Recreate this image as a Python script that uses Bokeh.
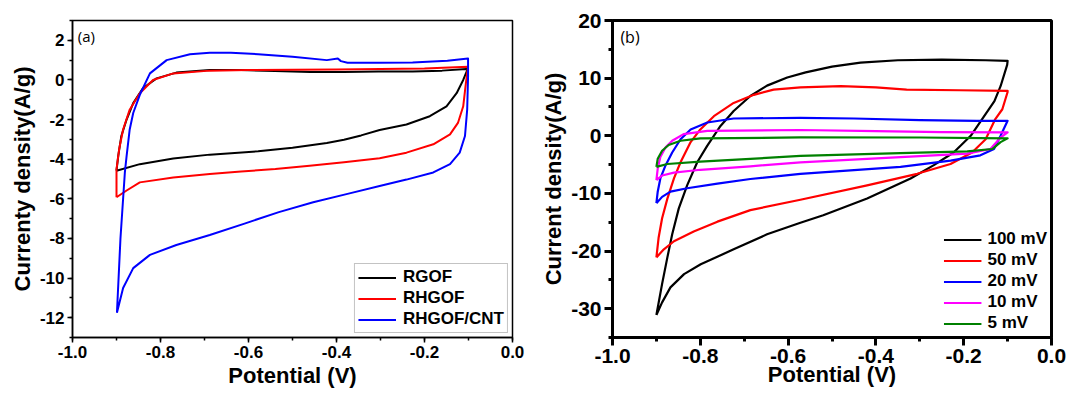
from bokeh.plotting import figure
from bokeh.layouts import row
from bokeh.models import (SingleIntervalTicker, PrintfTickFormatter, Label,
                          Legend, LegendItem, Range1d)
from bokeh.embed import file_html
from bokeh.resources import INLINE

# ---------------- data: panel (a) ----------------
rgof_x = [-0.900, -0.896, -0.889, -0.877, -0.862, -0.840, -0.809, -0.764, -0.688, -0.617,
          -0.540, -0.460, -0.383, -0.305, -0.227, -0.160, -0.105, -0.101,
          -0.112, -0.127, -0.150, -0.188, -0.241, -0.302, -0.344, -0.383, -0.422, -0.500,
          -0.578, -0.688, -0.771, -0.847, -0.900]
rgof_y = [-4.58, -3.83, -2.83, -2.00, -1.17, -0.42, 0.08, 0.37, 0.50, 0.50,
          0.45, 0.40, 0.40, 0.42, 0.42, 0.47, 0.55, 0.60,
          0.00, -0.67, -1.33, -1.83, -2.25, -2.53, -2.80, -3.02, -3.18, -3.42,
          -3.60, -3.77, -3.97, -4.25, -4.58]

rhgof_x = [-0.900, -0.900, -0.894, -0.885, -0.870, -0.847, -0.817, -0.771, -0.688, -0.600,
           -0.500, -0.400, -0.300, -0.200, -0.101,
           -0.106, -0.112, -0.124, -0.142, -0.180, -0.241, -0.302, -0.383, -0.461, -0.539,
           -0.617, -0.688, -0.771, -0.847, -0.877, -0.900]
rhgof_y = [-5.92, -4.50, -3.50, -2.50, -1.50, -0.67, 0.00, 0.33, 0.47, 0.50,
           0.52, 0.53, 0.55, 0.58, 0.67,
           -0.17, -1.33, -2.17, -2.75, -3.25, -3.67, -3.95, -4.15, -4.33, -4.50,
           -4.62, -4.75, -4.92, -5.17, -5.58, -5.92]

cnt_x = [-0.899, -0.891, -0.881, -0.877, -0.870, -0.862, -0.847, -0.824, -0.786, -0.733,
         -0.688, -0.640, -0.578, -0.500, -0.422, -0.397, -0.390, -0.375, -0.305, -0.227,
         -0.148, -0.101,
         -0.101, -0.103, -0.108, -0.120, -0.142, -0.180, -0.241, -0.302, -0.375, -0.453,
         -0.531, -0.609, -0.688, -0.764, -0.824, -0.862, -0.885, -0.899]
cnt_y = [-11.75, -8.00, -4.67, -3.83, -2.50, -1.67, -0.75, 0.33, 1.00, 1.30,
         1.37, 1.37, 1.30, 1.17, 1.00, 1.08, 0.95, 0.87, 0.87, 0.88,
         0.97, 1.08,
         0.17, -1.50, -2.83, -3.67, -4.25, -4.67, -5.03, -5.35, -5.75, -6.17,
         -6.67, -7.25, -7.83, -8.33, -8.83, -9.50, -10.50, -11.75]

series_a = ["RGOF", "RHGOF", "RHGOF/CNT"]

# ---------------- data: panel (b) ----------------
mv100_x = [-0.900, -0.887, -0.875, -0.864, -0.849, -0.830, -0.807, -0.784, -0.754, -0.724,
           -0.686, -0.648, -0.602, -0.560, -0.500, -0.435, -0.350, -0.250, -0.150, -0.100,
           -0.101, -0.116, -0.130, -0.158, -0.184, -0.223, -0.268, -0.321, -0.420, -0.520,
           -0.572, -0.648, -0.724, -0.799, -0.837, -0.868, -0.887, -0.900]
mv100_y = [-31.1, -25.7, -21.1, -17.1, -12.6, -8.6, -4.6, -1.7, 1.7, 4.3,
           6.9, 8.7, 10.1, 11.0, 12.0, 12.7, 13.1, 13.2, 13.1, 13.0,
           12.3, 8.6, 6.0, 2.9, 0.0, -2.9, -5.1, -7.4, -10.9, -13.8,
           -15.1, -17.1, -19.7, -22.3, -24.0, -26.3, -28.9, -31.1]

mv50_x = [-0.900, -0.895, -0.887, -0.875, -0.860, -0.845, -0.822, -0.800, -0.769, -0.724,
          -0.678, -0.633, -0.572, -0.480, -0.400, -0.330, -0.210, -0.100,
          -0.100, -0.112, -0.128, -0.150, -0.181, -0.230, -0.306, -0.420, -0.572, -0.686,
          -0.761, -0.815, -0.860, -0.883, -0.900]
mv50_y = [-21.1, -17.7, -14.3, -10.9, -7.4, -4.6, -1.1, 1.1, 3.4, 5.7,
          7.1, 8.0, 8.4, 8.6, 8.4, 8.0, 7.9, 7.8,
          7.6, 4.6, 2.9, -0.6, -2.9, -4.9, -6.6, -8.6, -11.1, -12.9,
          -14.9, -16.6, -18.3, -19.7, -21.1]

mv20_x = [-0.900, -0.897, -0.891, -0.879, -0.864, -0.845, -0.822, -0.784, -0.724, -0.572,
          -0.450, -0.300, -0.170, -0.100,
          -0.100, -0.116, -0.131, -0.162, -0.230, -0.344, -0.458, -0.572, -0.686, -0.761,
          -0.830, -0.868, -0.887, -0.900]
mv20_y = [-11.7, -9.7, -7.4, -5.1, -2.9, -0.6, 1.1, 2.3, 3.0, 3.1,
          3.0, 2.7, 2.6, 2.6,
          2.6, 0.0, -2.3, -3.4, -4.3, -5.4, -6.0, -6.6, -7.5, -8.3,
          -9.1, -9.7, -10.6, -11.7]

mv10_x = [-0.900, -0.897, -0.891, -0.879, -0.864, -0.838, -0.784, -0.572, -0.400, -0.250,
          -0.100,
          -0.100, -0.116, -0.139, -0.192, -0.344, -0.572, -0.686, -0.800, -0.860, -0.887,
          -0.900]
mv10_y = [-7.7, -5.7, -3.7, -2.0, -0.86, 0.29, 0.86, 1.0, 0.8, 0.65,
          0.6,
          0.58, -0.3, -2.3, -3.1, -3.7, -4.6, -5.3, -5.9, -6.4, -6.9,
          -7.7]

mv5_x = [-0.900, -0.897, -0.887, -0.872, -0.845, -0.800, -0.572, -0.300, -0.100,
         -0.100, -0.116, -0.135, -0.192, -0.344, -0.572, -0.686, -0.800, -0.875, -0.900]
mv5_y = [-5.4, -4.0, -2.6, -1.6, -0.86, -0.46, -0.29, -0.30, -0.45,
         -0.45, -1.1, -2.3, -2.7, -3.0, -3.5, -4.0, -4.5, -4.9, -5.4]

series_b = ["100 mV", "50 mV", "20 mV", "10 mV", "5 mV"]

FONT = "Liberation Sans"


def style(p, lw, tick_size, major_out, minor_out, lab_standoff, axis_standoff):
    p.xgrid.visible = False
    p.ygrid.visible = False
    p.outline_line_color = "black"
    p.outline_line_width = lw
    p.outline_line_alpha = 1
    p.background_fill_color = "white"
    p.border_fill_color = "white"
    for ax in (p.xaxis[0], p.yaxis[0]):
        ax.axis_line_width = lw
        ax.axis_line_color = "black"
        ax.major_tick_line_width = lw
        ax.minor_tick_line_width = lw
        ax.major_tick_line_color = "black"
        ax.minor_tick_line_color = "black"
        ax.major_tick_in = 0
        ax.major_tick_out = major_out
        ax.minor_tick_in = 0
        ax.minor_tick_out = minor_out
        ax.major_label_text_font = FONT
        ax.major_label_text_font_style = "bold"
        ax.major_label_text_font_size = tick_size
        ax.major_label_text_color = "black"
        ax.major_label_standoff = lab_standoff
        ax.axis_label_text_font = FONT
        ax.axis_label_text_font_style = "bold"
        ax.axis_label_text_font_size = "22px"
        ax.axis_label_text_color = "black"
        ax.axis_label_standoff = axis_standoff
    p.xaxis[0].formatter = PrintfTickFormatter(format="%.1f")
    p.yaxis[0].formatter = PrintfTickFormatter(format="%d")


# ---------------- panel (a) ----------------
p1 = figure(width=535, height=393, x_range=Range1d(-1.0, 0.0), y_range=Range1d(-13, 3),
            output_backend="svg", toolbar_location=None,
            min_border_left=72, min_border_right=23, min_border_top=17, min_border_bottom=56,
            x_axis_label="Potential (V)", y_axis_label="Currenty density(A/g)")
style(p1, 1.5, "17px", 5, 3, 3, 2)
p1.xaxis[0].ticker = SingleIntervalTicker(interval=0.2, num_minor_ticks=2)
p1.yaxis[0].ticker = SingleIntervalTicker(interval=2, num_minor_ticks=2)

colors_a = ["black", "#ff0000", "#0000ff"]
data_a = [(rgof_x, rgof_y), (rhgof_x, rhgof_y), (cnt_x, cnt_y)]
items_a = []
for name, c, (xs, ys) in zip(series_a, colors_a, data_a):
    r = p1.line(xs, ys, line_color=c, line_width=2, line_join="round")
    items_a.append(LegendItem(label=name, renderers=[r]))

leg_a = Legend(items=items_a, location="bottom_right",
               label_text_font=FONT, label_text_font_style="bold", label_text_font_size="17px",
               label_text_color="black", glyph_width=38, glyph_height=19, label_height=19,
               spacing=1, padding=3, margin=4, label_standoff=7,
               border_line_color="#888888", border_line_width=1, background_fill_alpha=1)
p1.add_layout(leg_a)
p1.add_layout(Label(x=-0.988, y=2.2, text="(a)", text_font="Open Sans", text_font_size="15px",
                    text_baseline="middle", text_align="left", text_color="black"))

# ---------------- panel (b) ----------------
p2 = figure(width=534, height=393, x_range=Range1d(-1.0, 0.0), y_range=Range1d(-35, 20),
            output_backend="svg", toolbar_location=None,
            min_border_left=77, min_border_right=18, min_border_top=20, min_border_bottom=52,
            x_axis_label="Potential (V)", y_axis_label="Current density(A/g)")
style(p2, 3, "21px", 8, 4, 3, -4)
p2.yaxis[0].axis_label_standoff = 2
p2.xaxis[0].ticker = SingleIntervalTicker(interval=0.2, num_minor_ticks=2)
p2.yaxis[0].ticker = SingleIntervalTicker(interval=10, num_minor_ticks=2)

colors_b = ["black", "#ff0000", "#0000ff", "#ff00ff", "#008000"]
data_b = [(mv100_x, mv100_y), (mv50_x, mv50_y), (mv20_x, mv20_y), (mv10_x, mv10_y), (mv5_x, mv5_y)]
items_b = []
for name, c, (xs, ys) in zip(series_b, colors_b, data_b):
    r = p2.line(xs, ys, line_color=c, line_width=2.2, line_join="round")
    items_b.append(LegendItem(label=name, renderers=[r]))

leg_b = Legend(items=items_b, location="bottom_right",
               label_text_font=FONT, label_text_font_style="bold", label_text_font_size="17px",
               label_text_color="black", glyph_width=38, glyph_height=19, label_height=19,
               spacing=1, padding=0, margin=4, label_standoff=6,
               border_line_alpha=0, background_fill_alpha=0)
p2.add_layout(leg_b)
p2.add_layout(Label(x=-0.982, y=17.1, text="(b)", text_font="Open Sans", text_font_size="16px",
                    text_baseline="middle", text_align="left", text_color="black"))

layout = row(p1, p2)
open("out.html", "w").write(file_html(layout, INLINE))
